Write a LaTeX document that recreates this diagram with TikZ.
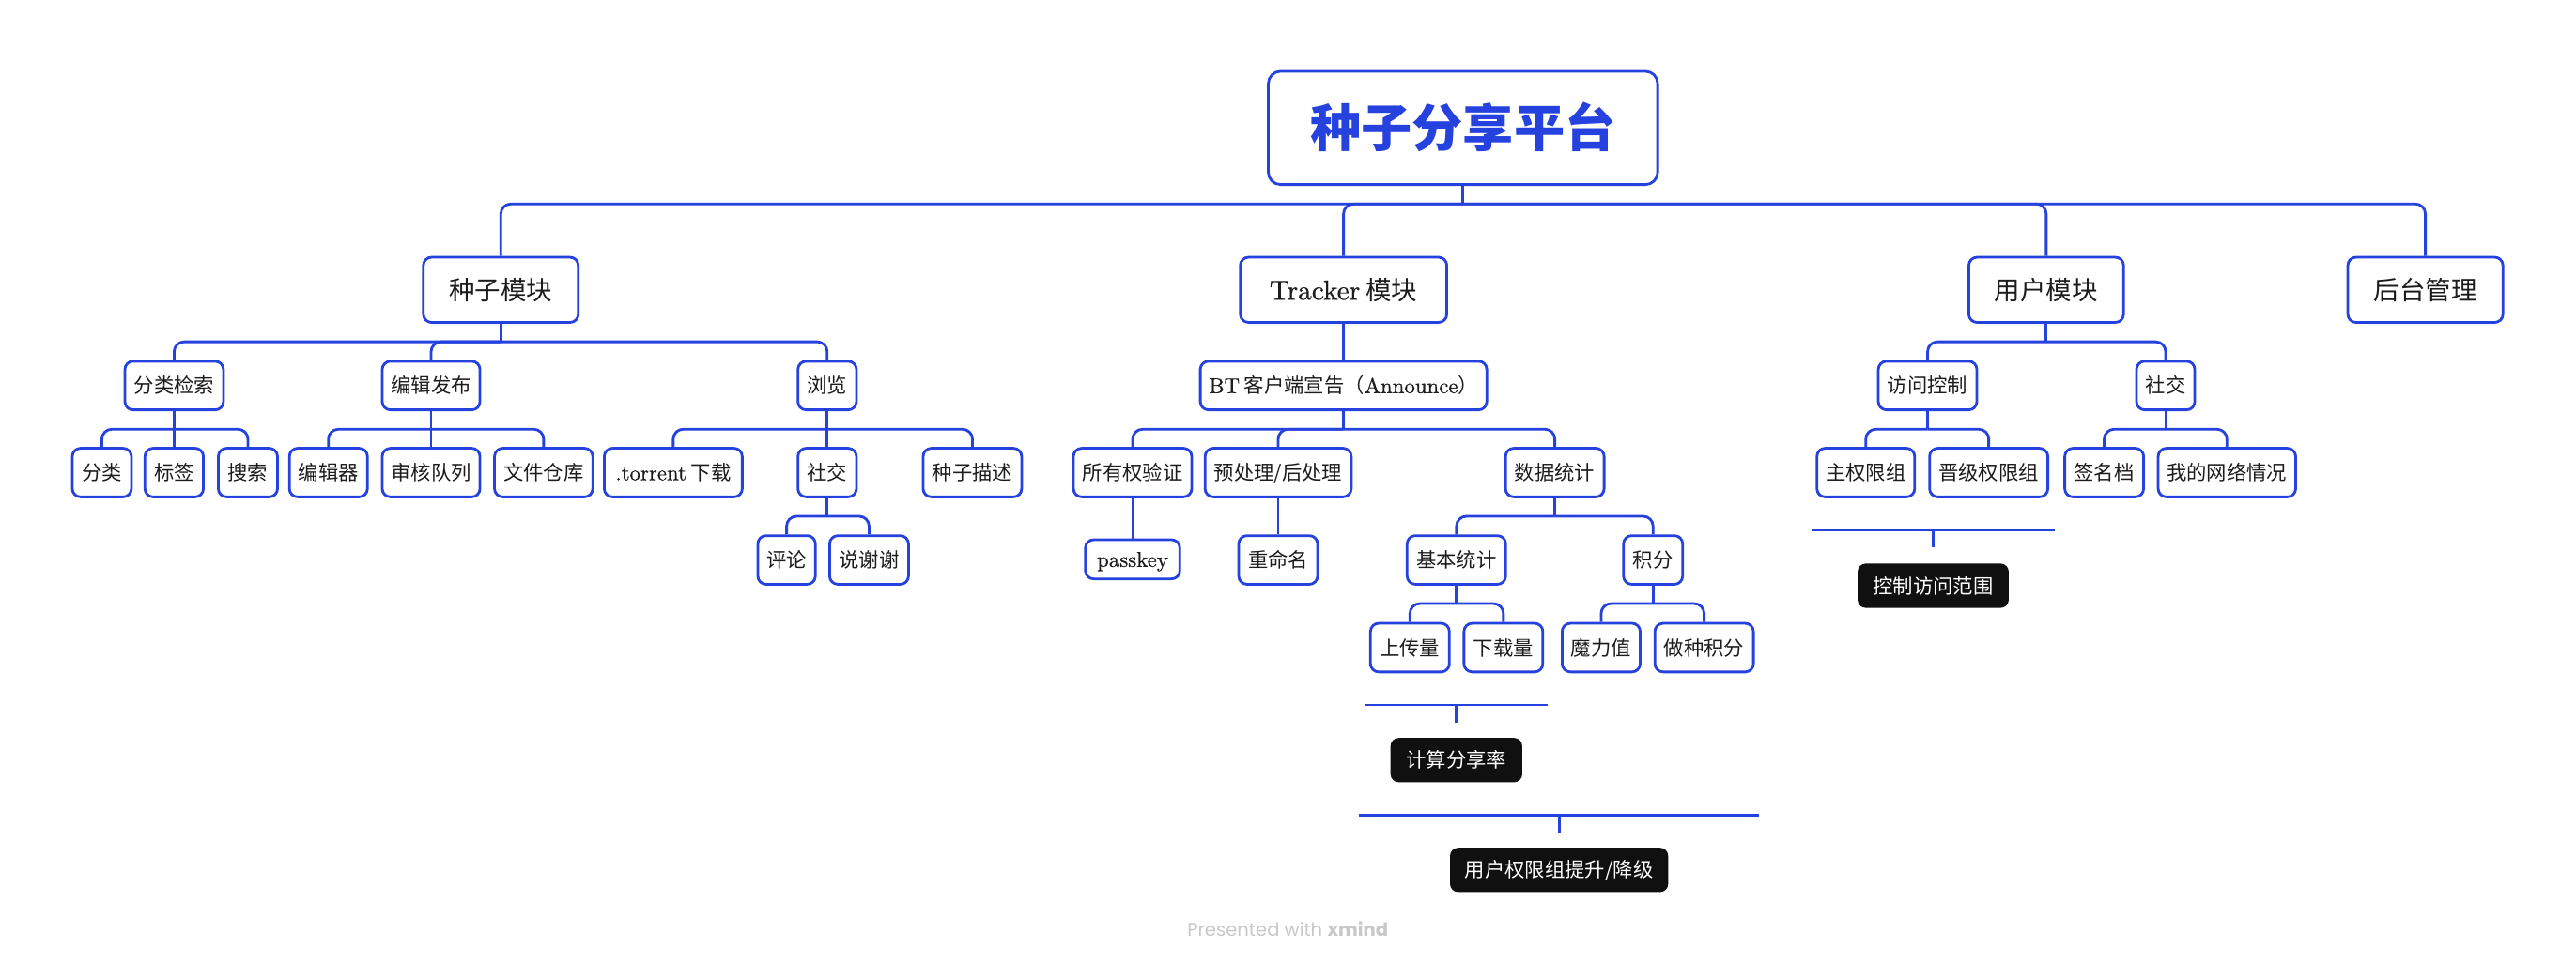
\documentclass[tikz,border=0pt]{standalone}
\usepackage{fontspec}
\setmainfont{lmroman10-regular}[Extension=.otf,Scale=1.07,FakeBold=0.6]
\newfontfamily\cjk{Noto Sans CJK SC}
\newfontfamily\footfont{Poppins}
\definecolor{xblue}{RGB}{38,66,222}
\definecolor{xtext}{RGB}{28,28,28}
\definecolor{xdark}{RGB}{16,16,16}
\definecolor{xgray}{RGB}{200,200,200}
\tikzset{
  conn/.style={draw=xblue, line width=1.6pt, rounded corners=6pt},
  sumline/.style={draw=xblue, line width=1.6pt},
  box/.style={draw=xblue, line width=1.6pt, rounded corners=5pt, fill=white, text=xtext, inner sep=0pt},
  rootbox/.style={box, rounded corners=7.5pt, minimum width=237pt, minimum height=69pt, text=xblue,
     font=\fontsize{31}{31}\selectfont\cjk\bfseries, text height=26.5pt, text depth=2.9pt},
  topbox/.style={box, minimum height=39.7pt, font=\fontsize{15.7}{16}\selectfont\cjk, text height=13.4pt, text depth=1.4pt},
  leaf/.style={box, minimum height=29.6pt, font=\fontsize{12.2}{13}\selectfont\cjk, text height=10.4pt, text depth=1.2pt},
  sumbox/.style={fill=xdark, rounded corners=5pt, text=white, inner sep=0pt, minimum height=27pt,
     font=\fontsize{12.2}{13}\selectfont\cjk, text height=10.4pt, text depth=1.2pt},
}
\newcommand\mybus[2]{%
  \coordinate (#1-b) at ([yshift=-11pt]#1.south);
  \draw[conn] (#1.south) -- (#1-b);
  \foreach \ch in {#2} {\draw[conn] (#1-b) -| (\ch.north);}
}
\begin{document}
\begin{tikzpicture}[x=1pt,y=-1pt]
\fill[white] (0,0) rectangle (1568,586.5);
\useasboundingbox (0,0) rectangle (1568,586.5);

% root
\node[rootbox] (root) at (890.5,77.9) {种子分享平台};

% level 1
\node[topbox, minimum width=94.3pt] (m1) at (304.85,176.5) {种子模块};
\node[topbox, minimum width=125.7pt] (m2) at (817.8,176.5) {{\rmfamily Tracker} 模块};
\node[topbox, minimum width=94.2pt] (m3) at (1245.5,176.5) {用户模块};
\node[topbox, minimum width=94.4pt] (m4) at (1476.3,176.5) {后台管理};

% level 2
\node[leaf, minimum width=60pt] (a1) at (106,234.8) {分类检索};
\node[leaf, minimum width=59.5pt] (a2) at (262.4,234.8) {编辑发布};
\node[leaf, minimum width=35.6pt] (a3) at (503.5,234.8) {浏览};
\node[leaf, minimum width=174.4pt] (b1) at (817.8,234.8) {{\rmfamily BT} 客户端宣告（{\rmfamily Announce}）};
\node[leaf, minimum width=60pt] (c1) at (1173.3,234.8) {访问控制};
\node[leaf, minimum width=35.5pt] (c2) at (1318.2,234.8) {社交};

% level 3
\node[leaf, minimum width=36pt] (a11) at (62,287.8) {分类};
\node[leaf, minimum width=35.6pt] (a12) at (106,287.8) {标签};
\node[leaf, minimum width=36pt] (a13) at (150.9,287.8) {搜索};
\node[leaf, minimum width=47.5pt] (a21) at (199.9,287.8) {编辑器};
\node[leaf, minimum width=59.5pt] (a22) at (262.4,287.8) {审核队列};
\node[leaf, minimum width=59.8pt] (a23) at (330.9,287.8) {文件仓库};
\node[leaf, minimum width=84pt] (a31) at (409.8,287.8) {{\rmfamily .torrent} 下载};
\node[leaf, minimum width=35.6pt] (a32) at (503.5,287.8) {社交};
\node[leaf, minimum width=60pt] (a33) at (591.9,287.8) {种子描述};
\node[leaf, minimum width=72pt] (b11) at (689.4,287.8) {所有权验证};
\node[leaf, minimum width=89pt] (b12) at (778,287.8) {预处理/后处理};
\node[leaf, minimum width=60pt] (b13) at (946.4,287.8) {数据统计};
\node[leaf, minimum width=59.5pt] (c11) at (1135.7,287.8) {主权限组};
\node[leaf, minimum width=72pt] (c12) at (1210.5,287.8) {晋级权限组};
\node[leaf, minimum width=48pt] (c21) at (1280.8,287.8) {签名档};
\node[leaf, minimum width=83.7pt] (c22) at (1355.5,287.8) {我的网络情况};

% level 4
\node[leaf, minimum width=35pt] (a321) at (478.8,341) {评论};
\node[leaf, minimum width=48pt] (a322) at (529,341) {说谢谢};
\node[leaf, minimum width=57.5pt, minimum height=23.8pt] (b111) at (689.4,340.6) {\rmfamily passkey};
\node[leaf, minimum width=48pt] (b121) at (778,341) {重命名};
\node[leaf, minimum width=60pt] (b131) at (886.5,341) {基本统计};
\node[leaf, minimum width=36pt] (b132) at (1006.2,341) {积分};

% level 5
\node[leaf, minimum width=48pt] (b1311) at (858.2,394.4) {上传量};
\node[leaf, minimum width=48pt] (b1312) at (915.1,394.4) {下载量};
\node[leaf, minimum width=47.5pt] (b1321) at (974.6,394.4) {魔力值};
\node[leaf, minimum width=60pt] (b1322) at (1037.3,394.4) {做种积分};

% connectors
\mybus{root}{m1,m2,m3,m4}
\mybus{m1}{a1,a2,a3}
\mybus{m2}{b1}
\mybus{m3}{c1,c2}
\mybus{a1}{a11,a12,a13}
\mybus{a2}{a21,a22,a23}
\mybus{a3}{a31,a32,a33}
\mybus{a32}{a321,a322}
\mybus{b1}{b11,b12,b13}
\mybus{b11}{b111}
\mybus{b12}{b121}
\mybus{b13}{b131,b132}
\mybus{b131}{b1311,b1312}
\mybus{b132}{b1321,b1322}
\mybus{c1}{c11,c12}
\mybus{c2}{c21,c22}

% summaries
\node[sumbox, minimum width=92pt] (s1) at (1176.7,356.7) {控制访问范围};
\coordinate (s1l) at (1102.8,323);
\coordinate (s1r) at (1250.8,323);
\coordinate (s1m) at (1176.7,323);
\draw[sumline] (s1l) -- (s1r);
\draw[sumline] (s1m) -- ([yshift=9.6pt]s1.north);

\node[sumbox, minimum width=80.2pt] (s2) at (886.5,462.9) {计算分享率};
\coordinate (s2l) at (830.8,429.3);
\coordinate (s2r) at (942.2,429.3);
\coordinate (s2m) at (886.5,429.3);
\draw[sumline] (s2l) -- (s2r);
\draw[sumline] (s2m) -- ([yshift=9pt]s2.north);

\node[sumbox, minimum width=132.8pt] (s3) at (949,529.8) {用户权限组提升/降级};
\coordinate (s3l) at (827.3,496.4);
\coordinate (s3r) at (1070.8,496.4);
\coordinate (s3m) at (949,496.4);
\draw[sumline] (s3l) -- (s3r);
\draw[sumline] (s3m) -- ([yshift=9.3pt]s3.north);

% footer
\node[font=\fontsize{11.2}{13}\selectfont\footfont, text=xgray, inner sep=0pt] (foot) at (783.8,566) {Presented with \textbf{xmind}};
\end{tikzpicture}
\end{document}
